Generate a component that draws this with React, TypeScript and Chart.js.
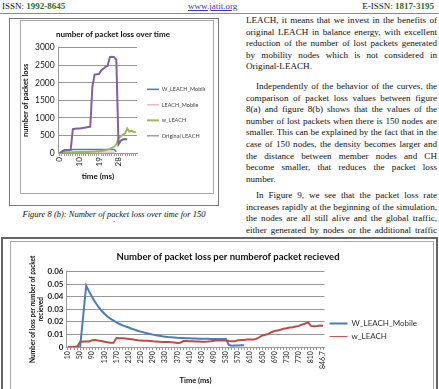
import React, { useEffect, useRef } from 'react';
import { Chart, registerables } from 'chart.js';

Chart.register(...registerables);

// ---------- Figure 8(b) data ----------
const topTimes = ['0','1','2','3','4','5','6','7','8','10','11','12','13','14','15','16','17','18','19','20','21','22','23','24','25','26','27','28','29','30','31','32','33','34','35','36'];
const topYTickLabels = ['0','500','1000','1500','2000','2500','3000'];
const topSeriesNames = ['W_LEACH_Mobile','LEACH_Mobile','w_LEACH','Original LEACH'];
const wLeachMobileTop = [0,60,90,95,95,95,100,100,100,100,100,100,100,100,100,100,100,100,100,100,100,100,100,100,100,100,40,null,null,null,null,null,null,null,null,null];
const leachMobileTop = [0,10,20,25,30,30,30,30,30,30,30,30,30,30,30,30,30,30,30,30,30,30,30,30,30,20,null,null,null,null,null,null,null,null,null,null];
const wLeachTop = [0,5,10,15,20,20,25,25,30,30,30,35,35,35,40,40,45,50,55,60,70,80,100,120,150,180,250,420,470,520,560,700,610,640,600,590];
const originalLeachTop = [0,40,70,80,80,90,680,690,700,700,710,720,730,740,750,1900,2230,2240,2250,2350,2400,2450,2480,2730,2740,2730,2650,250,350,390,400,390,null,null,null,null];

// ---------- Figure 9 data ----------
const bottomTimes = ['10','20','30','40','50','60','70','80','90','100','110','120','130','140','150','160','170','180','190','200','210','220','230','240','250','260','270','280','290','300','310','320','330','340','350','360','370','380','390','400','410','420','430','440','450','460','470','480','490','500','510','520','530','540','550','560','570','580','590','600','610','620','630','640','650','660','670','680','690','700','710','720','730','740','750','760','770','780','790','800','810','820','830','840','846.7'];
const bottomYTickLabels = ['0','0.01','0.02','0.03','0.04','0.05','0.06'];
const bottomSeriesNames = ['W_LEACH_Mobile','w_LEACH'];
const wLeachMobileBottom = [0,0,0,0,0,0.024,0.0487,0.044,0.0395,0.0355,0.032,0.029,0.0265,0.0243,0.0225,0.021,0.0196,0.0183,0.0172,0.0163,0.0155,0.0146,0.0138,0.013,0.0123,0.0116,0.011,0.0104,0.0099,0.0094,0.009,0.0086,0.0083,0.008,0.0078,0.0076,0.0074,0.0073,0.0072,0.0071,0.007,0.0069,0.0068,0.0067,0.0067,0.0066,0.0066,0.0065,0.0065,0.0065,0.0064,0.0064,0.0064,0.0016,0.0011,0.0012,0.0013,0.0014,0.0015,null,null,null,null,null,null,null,null,null,null,null,null,null,null,null,null,null,null,null,null,null,null,null,null,null,null];
const wLeachBottom = [0,0,0,0.0005,0.004,0.0045,0.0045,0.0045,0.0055,0.0057,0.0052,0.0048,0.0043,0.0038,0.0035,0.0035,0.0072,0.0071,0.007,0.0068,0.0065,0.0062,0.0058,0.0055,0.0053,0.0051,0.005,0.0048,0.0046,0.0045,0.0043,0.0041,0.004,0.004,0.0039,0.0036,0.0033,0.0035,0.0048,0.0049,0.0047,0.0046,0.0045,0.0044,0.0043,0.0043,0.0044,0.0046,0.005,0.0052,0.0053,0.0054,0.0053,0.0048,0.0046,0.0047,0.0055,0.0056,0.0057,0.006,0.006,0.006,0.0065,0.0078,0.0092,0.0098,0.0105,0.0118,0.0128,0.0132,0.0138,0.0146,0.015,0.0155,0.0158,0.0163,0.0168,0.0178,0.0185,0.0198,0.0168,0.0165,0.0168,0.0172,0.017];

// ---------- page text ----------
const para1 = [
  'LEACH, it means that we invest in the benefits of',
  'original LEACH in balance energy, with excellent',
  'reduction of the number of lost packets generated',
  'by mobility nodes which is not considered in',
  'Original-LEACH.',
];
const para2 = [
  'Independently of the behavior of the curves, the',
  'comparison of packet loss values between figure',
  '8(a) and figure 8(b) shows that the values of the',
  'number of lost packets when there is 150 nodes are',
  'smaller. This can be explained by the fact that in the',
  'case of 150 nodes, the density becomes larger and',
  'the distance between member nodes and CH',
  'become smaller, that reduces the packet loss',
  'number.',
];
const para3 = [
  'In Figure 9, we see that the packet loss rate',
  'increases rapidly at the beginning of the simulation,',
  'the nodes are all still alive and the global traffic,',
  'either generated by nodes or the additional traffic',
];

const CHART_FONT = 'Lato, "Liberation Sans", sans-serif';
const SERIF = '"Liberation Serif", "Times New Roman", serif';

function legendLabels(lineWidths: number[]) {
  return (chart: Chart) =>
    Chart.defaults.plugins.legend.labels
      .generateLabels(chart)
      .map((item: any) => ({ ...item, lineWidth: lineWidths[item.datasetIndex] }))
      .sort((a: any, b: any) => a.datasetIndex - b.datasetIndex);
}

function TopChart() {
  const ref = useRef<HTMLCanvasElement | null>(null);
  useEffect(() => {
    if (!ref.current) return;
    const colors = ['#4a7ebb', '#e39a98', '#9bbb59', '#7e62a3'];
    const widths = [1.5, 1, 2, 2];
    const series = [wLeachMobileTop, leachMobileTop, wLeachTop, originalLeachTop];
    const chart = new Chart(ref.current, {
      type: 'line',
      data: {
        labels: topTimes,
        datasets: series.map((d, i) => ({
          label: topSeriesNames[i],
          data: d,
          borderColor: colors[i],
          backgroundColor: colors[i],
          borderWidth: widths[i],
          pointRadius: 0,
          tension: 0,
          order: 3 - i,
        })),
      },
      options: {
        responsive: false,
        animation: false,
        layout: { padding: { left: 0, right: 8, top: 0, bottom: 12 } },
        plugins: {
          title: {
            display: true,
            text: 'number of packet loss over time',
            color: '#111',
            font: { family: CHART_FONT, size: 8, weight: 'bold' },
            padding: { top: 9, bottom: 8 },
          },
          legend: {
            position: 'right',
            maxWidth: 68,
            title: { display: true, text: ' ', font: { size: 1 }, padding: { top: 0, bottom: 22 } },
            labels: {
              color: '#444',
              font: { family: CHART_FONT, size: 5.5 },
              usePointStyle: true,
              pointStyle: 'line',
              pointStyleWidth: 12,
              padding: 10,
              generateLabels: legendLabels([1.5, 1, 2, 1]),
            },
          },
          tooltip: { enabled: false },
        },
        scales: {
          x: {
            offset: true,
            grid: { display: true, drawOnChartArea: false, color: '#999', tickLength: 3 },
            border: { color: '#999' },
            ticks: {
              autoSkip: false,
              maxRotation: 90,
              minRotation: 90,
              color: '#222',
              padding: 1,
              font: { family: CHART_FONT, size: 8 },
              callback: (_v, i) => (i % 9 === 0 ? topTimes[i as number] : ''),
            },
            title: {
              display: true,
              text: 'time (ms)',
              color: '#111',
              font: { family: CHART_FONT, size: 8, weight: 'bold' },
              padding: { top: 4, bottom: 0 },
            },
          },
          y: {
            min: 0,
            max: 3000,
            ticks: {
              stepSize: 500,
              color: '#222',
              padding: 4,
              font: { family: CHART_FONT, size: 8.5 },
              callback: (_v, i) => topYTickLabels[i as number],
            },
            grid: { color: '#999', drawTicks: false },
            border: { display: true, color: '#999' },
            title: {
              display: true,
              text: 'number of packet loss',
              color: '#111',
              font: { family: CHART_FONT, size: 7.5, weight: 'bold' },
              padding: { top: 0, bottom: 1 },
            },
          },
        },
      },
    });
    return () => chart.destroy();
  }, []);
  return <canvas ref={ref} width={192} height={172} style={{ display: 'block' }} />;
}

function BottomChart() {
  const ref = useRef<HTMLCanvasElement | null>(null);
  useEffect(() => {
    if (!ref.current) return;
    const colors = ['#4a7ebb', '#be4b48'];
    const widths = [2, 2];
    const series = [wLeachMobileBottom, wLeachBottom];
    const chart = new Chart(ref.current, {
      type: 'line',
      data: {
        labels: bottomTimes,
        datasets: series.map((d, i) => ({
          label: bottomSeriesNames[i],
          data: d,
          borderColor: colors[i],
          backgroundColor: colors[i],
          borderWidth: widths[i],
          pointRadius: 0,
          tension: 0,
          order: 1 - i,
        })),
      },
      options: {
        responsive: false,
        animation: false,
        layout: { padding: { left: 18, right: 6, top: 0, bottom: 4 } },
        plugins: {
          title: {
            display: true,
            text: 'Number of packet loss per numberof packet recieved',
            color: '#111',
            font: { family: CHART_FONT, size: 9.5, weight: 'bold' },
            padding: { top: 9, bottom: 9 },
          },
          legend: {
            position: 'right',
            maxWidth: 120,
            title: { display: true, text: ' ', font: { size: 1 }, padding: { top: 0, bottom: 32 } },
            labels: {
              color: '#333',
              font: { family: CHART_FONT, size: 8 },
              usePointStyle: true,
              pointStyle: 'line',
              pointStyleWidth: 18,
              padding: 5,
              generateLabels: legendLabels([2, 1]),
            },
          },
          tooltip: { enabled: false },
        },
        scales: {
          x: {
            offset: true,
            grid: { display: true, drawOnChartArea: false, color: '#999', tickLength: 3 },
            border: { color: '#999' },
            ticks: {
              autoSkip: false,
              maxRotation: 90,
              minRotation: 90,
              color: '#222',
              padding: 1,
              font: { family: CHART_FONT, size: 7 },
              callback: (_v, i) => (i % 4 === 0 ? bottomTimes[i as number] : ''),
            },
            title: {
              display: true,
              text: 'Time (ms)',
              color: '#111',
              font: { family: CHART_FONT, size: 7.5, weight: 'bold' },
              padding: { top: 6, bottom: 0 },
            },
          },
          y: {
            min: 0,
            max: 0.06,
            ticks: {
              stepSize: 0.01,
              color: '#222',
              padding: 3,
              font: { family: CHART_FONT, size: 8, weight: 'bold' },
              callback: (_v, i) => bottomYTickLabels[i as number],
            },
            grid: { color: '#999', drawTicks: false },
            border: { display: true, color: '#999' },
            title: {
              display: true,
              text: ['Number of loss per number of packet', 'recieved'],
              color: '#111',
              font: { family: CHART_FONT, size: 6.5, weight: 'bold' },
              padding: { top: 0, bottom: 0 },
            },
          },
        },
      },
    });
    return () => chart.destroy();
  }, []);
  return <canvas ref={ref} width={422} height={147} style={{ display: 'block' }} />;
}

function Para({ lines, indent, top, lastJustified }: { lines: string[]; indent: boolean; top: number; lastJustified?: boolean }) {
  return (
    <div style={{ position: 'absolute', left: 246, top, width: 191 }}>
      {lines.map((t, i) => {
        const isLast = i === lines.length - 1 && !lastJustified;
        return (
          <div
            key={i}
            style={{
              height: 11.6,
              lineHeight: '11.6px',
              textAlign: isLast ? 'left' : 'justify',
              textAlignLast: isLast ? 'left' : 'justify',
              textIndent: i === 0 && indent ? 10 : 0,
              overflow: 'visible',
            }}
          >
            {t}
          </div>
        );
      })}
    </div>
  );
}

export default function App() {
  return (
    <div
      style={{
        position: 'absolute',
        left: 0,
        top: 0,
        width: 439,
        height: 389,
        overflow: 'hidden',
        background: '#fff',
        fontFamily: SERIF,
        fontSize: 9.1,
        color: '#111',
      }}
    >
      {/* header */}
      <div style={{ position: 'absolute', left: 2, top: 1, fontSize: 9, lineHeight: '10px' }}>
        ISSN: <b style={{ color: '#2a6e2a' }}>1992-8645</b>
      </div>
      <div style={{ position: 'absolute', left: 188, top: 1, fontSize: 9, lineHeight: '10px', color: '#3b3bbf', textDecoration: 'underline' }}>
        www.jatit.org
      </div>
      <div style={{ position: 'absolute', right: 5, top: 1, fontSize: 9, lineHeight: '10px' }}>
        E-ISSN: <b style={{ color: '#2a6e2a' }}>1817-3195</b>
      </div>
      <div style={{ position: 'absolute', left: 0, top: 12.5, width: 439, height: 1.5, background: '#8a8a8a' }} />

      {/* figure 8(b) frame */}
      <div style={{ position: 'absolute', left: 9, top: 18, width: 208, height: 186, border: '1px solid #777' }} />
      <div style={{ position: 'absolute', left: 20, top: 20, width: 192, height: 172, border: '1px solid #aaa', background: '#fff' }}>
        <TopChart />
      </div>
      <div style={{ position: 'absolute', left: 9, top: 209, width: 210, textAlign: 'center', fontStyle: 'italic', fontSize: 8.5, lineHeight: '10px' }}>
        Figure 8 (b): Number of packet loss over time for 150
      </div>
      <div style={{ position: 'absolute', left: 9, top: 215, width: 210, textAlign: 'center', fontSize: 8.5, lineHeight: '8px' }}>.</div>

      {/* right column text */}
      <Para lines={para1} indent={false} top={15} />
      <Para lines={para2} indent={true} top={81} />
      <Para lines={para3} indent={true} top={190} lastJustified />

      {/* figure 9 frame */}
      <div style={{ position: 'absolute', left: 1, top: 237, width: 436, height: 2, background: '#666' }} />
      <div style={{ position: 'absolute', left: 1, top: 237, width: 1.5, height: 160, background: '#666' }} />
      <div style={{ position: 'absolute', left: 436, top: 237, width: 1.5, height: 160, background: '#666' }} />
      <div style={{ position: 'absolute', left: 10, top: 241, width: 422, height: 160, border: '1px solid #aaa', background: '#fff' }}>
        <BottomChart />
      </div>
    </div>
  );
}
